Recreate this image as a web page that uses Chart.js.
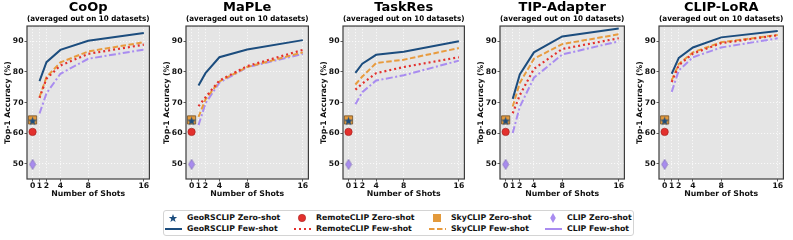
<!DOCTYPE html>
<html>
<head>
<meta charset="utf-8">
<script src="https://cdn.jsdelivr.net/npm/chart.js@4.4.1/dist/chart.umd.min.js"></script>
<style>
  body { margin: 0; width: 793px; height: 240px; background: #fff; position: relative; overflow: hidden; font-family: 'DejaVu Sans'; }
  canvas { position: absolute; top: 0; }
  #legend { position: absolute; left: 163px; top: 210px; width: 471px; height: 26px; border: 1px solid #d4d4d4; border-radius: 3px; box-sizing: border-box; }
  .lab { position: absolute; font: bold 7.8px 'DejaVu Sans'; line-height: 10px; white-space: nowrap; color: #111; }
  svg { position: absolute; overflow: visible; }
</style>
</head>
<body>
<div id="legend"></div>
<script>
const methods = ['CoOp', 'MaPLe', 'TaskRes', 'TIP-Adapter', 'CLIP-LoRA'];
const shots = [1, 2, 4, 8, 16];
const xTicks = [0, 1, 2, 4, 8, 16];
const yTicks = [50, 60, 70, 80, 90];

// zero-shot accuracies (same in every panel)
const geoZero = 64.0;
const remoteZero = 60.4;
const skyZero = 64.3;
const clipZero = 49.8;

// few-shot accuracies, one row per method
const geoFew = [
  [77.0, 83.2, 87.2, 90.2, 92.7],
  [75.6, 79.6, 84.8, 87.3, 90.4],
  [79.7, 82.7, 85.6, 86.6, 90.0],
  [71.2, 79.2, 86.4, 91.6, 94.2],
  [79.4, 84.6, 88.0, 91.3, 93.4]
];
const remoteFew = [
  [71.5, 77.8, 82.1, 85.9, 88.9],
  [68.8, 71.7, 77.2, 81.9, 87.2],
  [74.2, 76.2, 79.6, 81.6, 84.8],
  [66.5, 72.4, 81.0, 87.5, 91.0],
  [76.7, 82.2, 86.0, 89.4, 92.0]
];
const skyFew = [
  [71.8, 78.3, 83.1, 86.7, 89.7],
  [65.3, 71.0, 76.9, 81.6, 86.4],
  [75.9, 78.5, 82.9, 84.0, 87.8],
  [68.7, 76.4, 84.3, 89.1, 92.3],
  [77.3, 82.6, 86.4, 89.7, 92.1]
];
const clipFew = [
  [66.4, 73.0, 79.4, 84.3, 87.3],
  [62.6, 69.7, 76.5, 81.5, 85.9],
  [69.4, 73.4, 77.2, 78.9, 83.7],
  [60.0, 68.6, 78.1, 85.7, 90.0],
  [73.5, 80.5, 84.8, 88.0, 91.0]
];

const BLUE = '#1c4d7e', RED = '#e3302d', ORANGE = '#e89b3e', PURPLE = '#a98cf0';

// plot area positions of the five panels
const plotL = [27, 186, 343, 500, 659];
const plotR = [153, 312, 468, 628, 787];

Chart.defaults.font.family = 'DejaVu Sans';
Chart.defaults.font.weight = 'bold';
Chart.defaults.color = '#111';

function starPoints(cx, cy, R, r) {
  const p = [];
  for (let k = 0; k < 10; k++) {
    const rad = k % 2 ? r : R;
    const a = -Math.PI / 2 + k * Math.PI / 5;
    p.push([cx + rad * Math.cos(a), cy + rad * Math.sin(a)]);
  }
  return p;
}
function starImg() {
  const c = document.createElement('canvas');
  c.width = 11; c.height = 11;
  const g = c.getContext('2d');
  g.beginPath();
  starPoints(5.5, 5.9, 4.6, 1.9).forEach(([x, y]) => g.lineTo(x, y));
  g.closePath();
  g.fillStyle = BLUE; g.fill();
  return c;
}
function diamondImg() {
  const c = document.createElement('canvas');
  c.width = 8; c.height = 11;
  const g = c.getContext('2d');
  g.beginPath();
  g.moveTo(4, 0.5); g.lineTo(7, 5.5); g.lineTo(4, 10.5); g.lineTo(1, 5.5); g.closePath();
  g.fillStyle = PURPLE; g.fill();
  g.strokeStyle = '#6f5aa8'; g.lineWidth = 0.6; g.stroke();
  return c;
}
const STAR = starImg(), DIAMOND = diamondImg();

const frame = {
  id: 'frame',
  beforeDraw(c) {
    const { ctx, chartArea: a } = c;
    ctx.save(); ctx.fillStyle = '#e5e5e5'; ctx.fillRect(a.left, a.top, a.width, a.height); ctx.restore();
  },
  afterDraw(c) {
    const { ctx, chartArea: a } = c;
    ctx.save(); ctx.strokeStyle = '#3d3d3d'; ctx.lineWidth = 1.2; ctx.strokeRect(a.left, a.top, a.width, a.height); ctx.restore();
  }
};

function pts(arr) { return shots.map((s, k) => ({ x: s, y: arr[k] })); }

function makeChart(i) {
  const yw = 27, padR = 3;
  const cv = document.createElement('canvas');
  const left = plotL[i] - yw;
  cv.width = plotR[i] - left + padR;
  cv.height = 200;
  cv.style.left = left + 'px';
  document.body.appendChild(cv);

  const grid = { color: 'rgba(255,255,255,0.95)', lineWidth: 0.8, tickLength: 2.5, tickColor: '#333', tickWidth: 0.8 };
  const border = { display: false, dash: [1.2, 1.8] };

  new Chart(cv, {
    type: 'line',
    data: {
      datasets: [
        { label: 'GeoRSCLIP Zero-shot', data: [{ x: 0, y: geoZero }], showLine: false, pointStyle: STAR, pointRadius: 4, order: 0 },
        { label: 'RemoteCLIP Zero-shot', data: [{ x: 0, y: remoteZero }], showLine: false, pointStyle: 'circle', pointRadius: 3.7,
          backgroundColor: RED, borderColor: '#9c1d1b', borderWidth: 0.6, order: 1 },
        { label: 'SkyCLIP Zero-shot', data: [{ x: 0, y: skyZero }], showLine: false, pointStyle: 'rect', pointRadius: 5.8,
          backgroundColor: '#e39a3c', borderColor: '#6e4f2a', borderWidth: 0.8, order: 1 },
        { label: 'CLIP Zero-shot', data: [{ x: 0, y: clipZero }], showLine: false, pointStyle: DIAMOND, pointRadius: 4, order: 1 },
        { label: 'GeoRSCLIP Few-shot', data: pts(geoFew[i]), borderColor: BLUE, borderWidth: 2, pointRadius: 0, order: 2 },
        { label: 'RemoteCLIP Few-shot', data: pts(remoteFew[i]), borderColor: RED, borderWidth: 2.2, borderDash: [2, 3], pointRadius: 0, order: 3 },
        { label: 'SkyCLIP Few-shot', data: pts(skyFew[i]), borderColor: ORANGE, borderWidth: 2, borderDash: [5.5, 2.5], pointRadius: 0, order: 4 },
        { label: 'CLIP Few-shot', data: pts(clipFew[i]), borderColor: PURPLE, borderWidth: 2, borderDash: [7, 2.5, 2, 2.5], pointRadius: 0, order: 5 }
      ]
    },
    options: {
      responsive: false,
      animation: false,
      devicePixelRatio: 1,
      layout: { padding: { top: 0, right: padR, bottom: 0, left: 0 } },
      plugins: {
        legend: { display: false },
        tooltip: { enabled: false },
        title: { display: true, text: methods[i], fullSize: false, color: '#000',
                 font: { size: 13, weight: 'bold', lineHeight: 1.1 }, padding: { top: 0, bottom: 0 } },
        subtitle: { display: true, text: '(averaged out on 10 datasets)', fullSize: false, color: '#000',
                    font: { size: 7.7, weight: 'bold' }, padding: { top: 0, bottom: 2.5 } }
      },
      scales: {
        x: {
          type: 'linear', min: -0.8, max: 16.8,
          afterBuildTicks: s => { s.ticks = xTicks.map(v => ({ value: v })); },
          afterFit: s => { s.height = 21; },
          ticks: { font: { size: 7.7, weight: 'bold' }, padding: 0, maxRotation: 0, autoSkip: false },
          grid, border,
          title: { display: true, text: 'Number of Shots', font: { size: 7.8, weight: 'bold' }, padding: { top: 0, bottom: 1 } }
        },
        y: {
          type: 'linear', min: 45, max: 95,
          afterBuildTicks: s => { s.ticks = yTicks.map(v => ({ value: v })); },
          afterFit: s => { s.width = yw; },
          ticks: { font: { size: 7.7, weight: 'bold' }, padding: 1 },
          grid, border,
          title: { display: true, text: 'Top-1 Accuracy (%)', font: { size: 7.7, weight: 'bold' }, padding: { top: 3, bottom: 0 } }
        }
      }
    },
    plugins: [frame]
  });
}
methods.forEach((m, i) => makeChart(i));

// legend: 4 columns x 2 rows
const legendNames = ['GeoRSCLIP', 'RemoteCLIP', 'SkyCLIP', 'CLIP'];
const colX = [173, 302, 437, 553];
const rowY = [218, 228.5];
const svgNS = 'http://www.w3.org/2000/svg';
function svgAt(x, y, w, h, inner) {
  const s = document.createElementNS(svgNS, 'svg');
  s.setAttribute('width', w); s.setAttribute('height', h);
  s.style.left = (x - w / 2) + 'px'; s.style.top = (y - h / 2) + 'px';
  s.innerHTML = inner;
  document.body.appendChild(s);
}
function label(x, y, t) {
  const d = document.createElement('div');
  d.className = 'lab'; d.textContent = t;
  d.style.left = x + 'px'; d.style.top = (y - 5) + 'px';
  document.body.appendChild(d);
}
const markers = [
  `<polygon points="${starPoints(5, 5.4, 4.4, 1.8).map(p => p.map(v => v.toFixed(2)).join(',')).join(' ')}" fill="${BLUE}"/>`,
  `<circle cx="5" cy="5" r="3.7" fill="${RED}" stroke="#9c1d1b" stroke-width="0.5"/>`,
  `<rect x="1" y="1" width="8" height="8" fill="#e39a3c"/>`,
  `<polygon points="5,0 7.8,5 5,10 2.2,5" fill="${PURPLE}"/>`
];
const lines = [
  `<line x1="0" y1="2" x2="17" y2="2" stroke="${BLUE}" stroke-width="2"/>`,
  `<line x1="0" y1="2" x2="17" y2="2" stroke="${RED}" stroke-width="2" stroke-dasharray="2 3"/>`,
  `<line x1="0" y1="2" x2="17" y2="2" stroke="${ORANGE}" stroke-width="2" stroke-dasharray="5.5 2.5"/>`,
  `<line x1="0" y1="2" x2="17" y2="2" stroke="${PURPLE}" stroke-width="2"/>`
];
legendNames.forEach((n, k) => {
  svgAt(colX[k], rowY[0], 10, 10, markers[k]);
  svgAt(colX[k], rowY[1], 17, 4, lines[k]);
  label(colX[k] + 14, rowY[0], n + ' Zero-shot');
  label(colX[k] + 14, rowY[1], n + ' Few-shot');
});
</script>
</body>
</html>
